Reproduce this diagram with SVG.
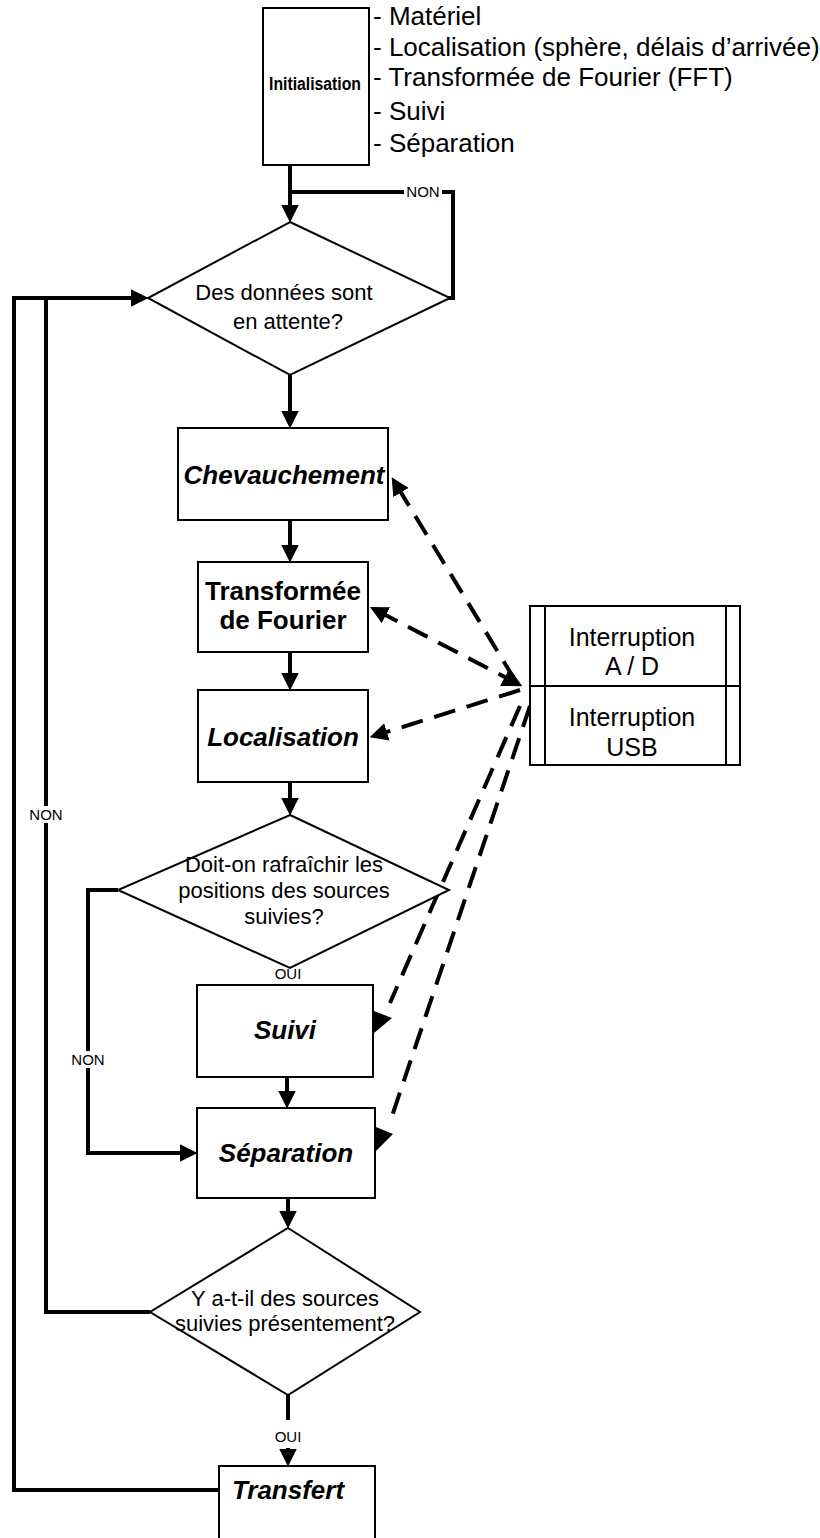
<svg xmlns="http://www.w3.org/2000/svg" width="820" height="1538" viewBox="0 0 820 1538">
<defs>
<style>
.box{fill:#fff;stroke:#000;stroke-width:2}
.flow{fill:none;stroke:#000;stroke-width:4}
.dash{fill:none;stroke:#000;stroke-width:4;stroke-dasharray:22 12}
text{font-family:'Liberation Sans',Arial,sans-serif;fill:#000}
.t{font-size:26px}
.n{font-size:26px;font-weight:bold;text-anchor:middle}
.ni{font-size:26px;font-weight:bold;font-style:italic;text-anchor:middle}
.q{font-size:22px;text-anchor:middle}
.ir{font-size:25px;text-anchor:middle}
.l{font-size:15px;text-anchor:middle}
.bg{fill:#fff;stroke:none}
</style>
<marker id="ah" viewBox="0 0 10 10" refX="7.5" refY="5" markerWidth="18" markerHeight="18" markerUnits="userSpaceOnUse" orient="auto"><path d="M0,0 L10,5 L0,10 z"/></marker>
<marker id="ahs" viewBox="0 0 10 10" refX="2.5" refY="5" markerWidth="20" markerHeight="20" markerUnits="userSpaceOnUse" orient="auto"><path d="M10,0 L0,5 L10,10 z"/></marker>
</defs>
<rect width="820" height="1538" fill="#fff"/>

<g id="connectors">
<path class="flow" d="M290,165 V218" marker-end="url(#ah)"/>
<path class="flow" d="M448,298 H453 V192 H290"/>
<path class="flow" d="M219,1490 H14 V298 H144" marker-end="url(#ah)"/>
<path class="flow" d="M150,1312 H46 V298"/>
<path class="flow" d="M290,375 V424" marker-end="url(#ah)"/>
<path class="flow" d="M290,520 V558" marker-end="url(#ah)"/>
<path class="flow" d="M290,652 V686" marker-end="url(#ah)"/>
<path class="flow" d="M290,782 V811" marker-end="url(#ah)"/>
<path class="flow" d="M287,1077 V1104" marker-end="url(#ah)"/>
<path class="flow" d="M118,890 H88 V1153 H193" marker-end="url(#ah)"/>
<path class="flow" d="M288,1198 V1224" marker-end="url(#ah)"/>
<path class="flow" d="M288,1395 V1420"/>
<path class="flow" d="M288,1448 V1462" marker-end="url(#ah)"/>
<path class="dash" d="M515,680 L394,481" marker-end="url(#ah)"/>
<path class="dash" d="M518,684 L374,609" marker-start="url(#ahs)" marker-end="url(#ah)"/>
<path class="dash" d="M520,690 L374,736" marker-end="url(#ah)"/>
<path class="dash" d="M520,706 L390,1003"/>
<path class="dash" d="M530,706 L390,1122"/>
<polygon points="374,1011 392,1018 374,1033"/>
<polygon points="376,1127 393,1134 376,1151"/>
<rect class="bg" x="404" y="184" width="38" height="15"/>
<text class="l" x="423" y="197">NON</text>
<rect class="bg" x="28" y="806" width="36" height="17"/>
<text class="l" x="46" y="820">NON</text>
<rect class="bg" x="70" y="1051" width="36" height="17"/>
<text class="l" x="88" y="1065">NON</text>
<text class="l" x="288" y="979">OUI</text>
<text class="l" x="288" y="1442">OUI</text>
</g>

<g id="init">
<rect class="box" x="263" y="8" width="106" height="157"/>
<text class="n" x="315" y="90" style="font-size:18px" textLength="92" lengthAdjust="spacingAndGlyphs">Initialisation</text>
</g>
<g id="init-list">
<text class="t" x="373" y="25">- Matériel</text>
<text class="t" x="373" y="56">- Localisation (sphère, délais d’arrivée)</text>
<text class="t" x="373" y="86">- Transformée de Fourier (FFT)</text>
<text class="t" x="373" y="120">- Suivi</text>
<text class="t" x="373" y="152">- Séparation</text>
</g>

<g id="q-donnees">
<polygon class="box" points="290,222 450,298 290,375 148,298"/>
<text class="q" x="284" y="300">Des données sont</text>
<text class="q" x="288" y="329">en attente?</text>
</g>

<g id="chevauchement">
<rect class="box" x="178" y="428" width="210" height="92"/>
<text class="ni" x="284" y="484">Chevauchement</text>
</g>

<g id="fourier">
<rect class="box" x="198" y="562" width="170" height="90"/>
<text class="n" x="283" y="600">Transformée</text>
<text class="n" x="283" y="629">de Fourier</text>
</g>

<g id="localisation">
<rect class="box" x="198" y="690" width="170" height="92"/>
<text class="ni" x="283" y="746">Localisation</text>
</g>

<g id="q-rafraichir">
<polygon class="box" points="290,815 449,890 290,968 118,890"/>
<text class="q" x="284" y="872">Doit-on rafraîchir les</text>
<text class="q" x="284" y="898">positions des sources</text>
<text class="q" x="284" y="924">suivies?</text>
</g>

<g id="suivi">
<rect class="box" x="197" y="985" width="176" height="92"/>
<text class="ni" x="285" y="1039">Suivi</text>
</g>

<g id="separation">
<rect class="box" x="197" y="1108" width="178" height="90"/>
<text class="ni" x="286" y="1162">Séparation</text>
</g>

<g id="q-sources">
<polygon class="box" points="288,1228 420,1312 288,1395 150,1312"/>
<text class="q" x="285" y="1306">Y a-t-il des sources</text>
<text class="q" x="285" y="1331">suivies présentement?</text>
</g>

<g id="transfert">
<rect class="box" x="219" y="1466" width="156" height="80"/>
<text class="ni" x="288" y="1499">Transfert</text>
</g>

<g id="interruptions">
<rect class="box" x="530" y="606" width="210" height="159"/>
<line class="box" x1="545" y1="606" x2="545" y2="765"/>
<line class="box" x1="726" y1="606" x2="726" y2="765"/>
<line class="box" x1="530" y1="686" x2="740" y2="686"/>
<text class="ir" x="632" y="646">Interruption</text>
<text class="ir" x="632" y="675">A / D</text>
<text class="ir" x="632" y="726">Interruption</text>
<text class="ir" x="632" y="756">USB</text>
</g>
</svg>
